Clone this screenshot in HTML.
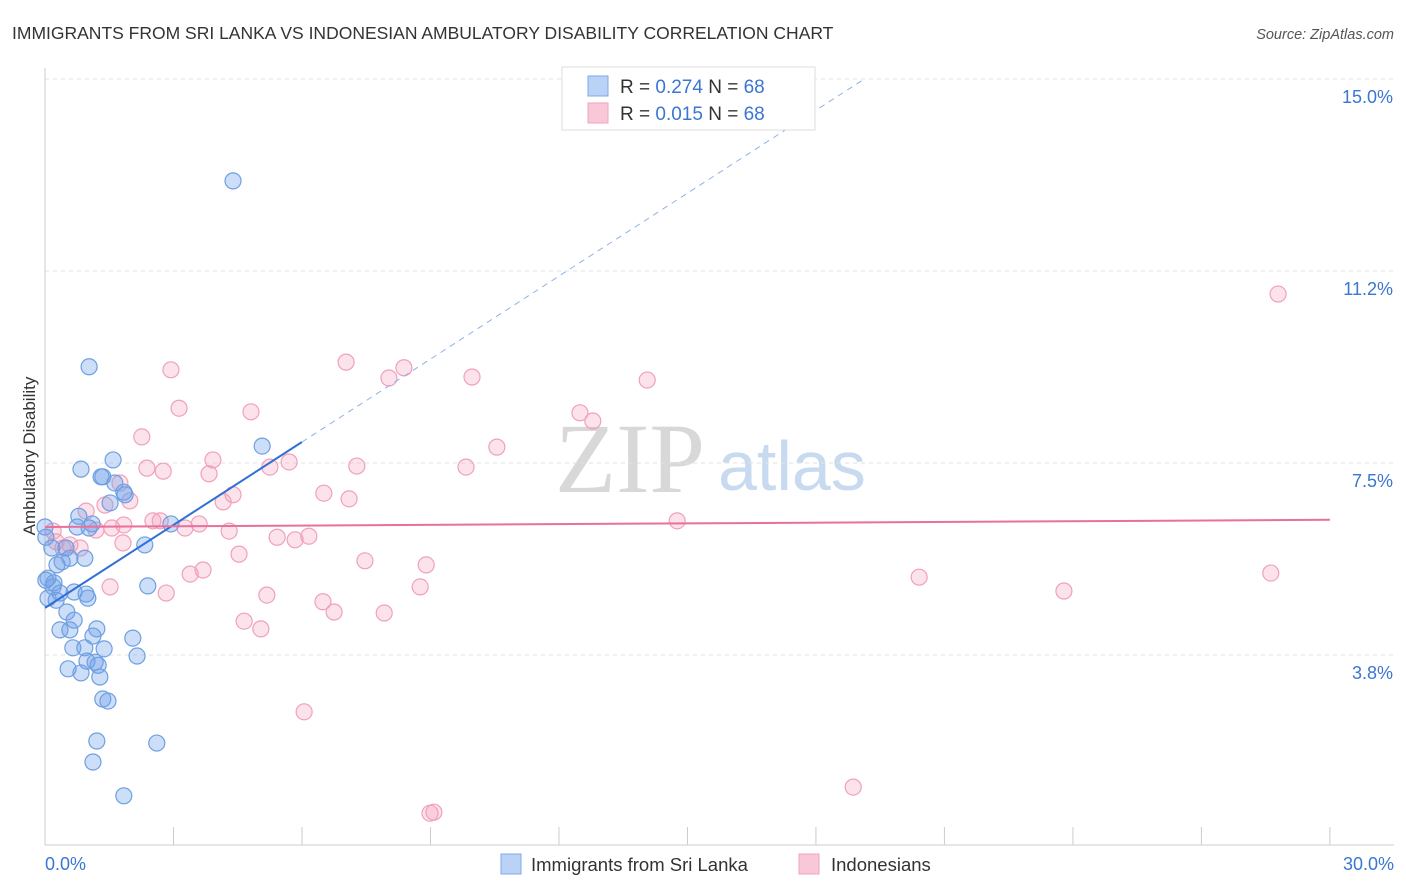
<!DOCTYPE html>
<html><head><meta charset="utf-8"><style>
body{margin:0;background:#fff;font-family:"Liberation Sans",sans-serif;}
svg{display:block}
</style></head><body>
<svg id="chart" width="1406" height="892">
<text x="12" y="39" font-size="17.5" fill="#333">IMMIGRANTS FROM SRI LANKA VS INDONESIAN AMBULATORY DISABILITY CORRELATION CHART</text>
<text x="1394" y="39" font-size="14.5" fill="#555" font-style="italic" text-anchor="end">Source: ZipAtlas.com</text>
<text x="35" y="456" font-size="17" fill="#333" text-anchor="middle" transform="rotate(-90 35 456)">Ambulatory Disability</text>
<g>
<text x="555" y="492" font-size="100" fill="#d8d8d8" font-family="Liberation Serif,serif">ZIP</text>
<text x="718" y="490" font-size="70" fill="#c8daf0">atlas</text>
</g>
<g id="grid"></g><g id="axes"></g><g id="pts"></g><g id="trend"></g>
<g>
<rect x="562" y="67" width="253" height="63" fill="#fff" stroke="#ddd"/>
<rect x="588" y="76" width="20" height="20" fill="#b9d2f5" stroke="#7ea8e6"/>
<rect x="588" y="103" width="20" height="20" fill="#f8c8d8" stroke="#f0a3bd"/>
<text x="620" y="93" font-size="19" fill="#333">R = <tspan fill="#3a76d2">0.274</tspan>   N = <tspan fill="#3a76d2">68</tspan></text>
<text x="620" y="120" font-size="19" fill="#333">R = <tspan fill="#3a76d2">0.015</tspan>   N = <tspan fill="#3a76d2">68</tspan></text>
</g>
<g>
<rect x="501" y="854" width="20" height="20" fill="#b9d2f5" stroke="#7ea8e6"/>
<text x="531" y="871" font-size="18.5" fill="#333">Immigrants from Sri Lanka</text>
<rect x="799" y="854" width="20" height="20" fill="#f8c8d8" stroke="#f0a3bd"/>
<text x="831" y="871" font-size="18.5" fill="#333">Indonesians</text>
</g>
</svg>
<script>
const xTickLabels=["0.0%","30.0%"];
const yTicks=[3.75,7.5,11.25,15];
const yTickLabels=["3.8%","7.5%","11.2%","15.0%"];
const blueX=[4.39,1.03,5.07,0.84,1.59,1.35,1.31,1.63,1.84,1.87,1.52,0.79,0.75,1.10,1.03,2.94,0,0.02,0.16,2.33,0.49,0.58,0.93,0.40,0.28,0.07,0.21,0.02,0.19,2.40,0.35,0.68,0.96,1.00,0.26,0.07,0.51,0.68,0.35,0.58,1.21,1.12,2.05,0.93,0.65,1.38,2.15,0.98,1.17,1.24,0.54,0.84,1.28,1.35,1.47,1.21,2.61,1.12,1.84];
const blueY=[13.01,9.38,7.83,7.38,7.56,7.23,7.23,7.11,6.93,6.88,6.72,6.46,6.25,6.31,6.23,6.31,6.25,6.05,5.84,5.90,5.84,5.64,5.64,5.57,5.51,5.25,5.16,5.21,5.08,5.10,4.96,4.98,4.94,4.86,4.82,4.86,4.59,4.43,4.24,4.24,4.26,4.12,4.08,3.89,3.89,3.87,3.73,3.63,3.61,3.55,3.48,3.40,3.32,2.89,2.85,2.07,2.03,1.66,1.00];
const pinkX=[28.79,7.03,2.94,8.38,8.03,9.97,14.06,3.13,4.81,12.49,12.79,2.26,10.55,3.92,5.70,2.38,2.76,5.25,7.28,9.83,3.83,1.75,1.98,4.39,6.51,7.10,1.40,4.16,0.96,2.52,2.69,14.76,1.84,3.60,1.19,3.27,4.30,1.56,0.19,0.26,0.58,0.82,0.42,1.82,5.42,6.16,5.84,4.53,7.47,8.90,3.39,3.69,20.41,28.62,1.52,2.83,8.76,5.18,6.49,6.75,7.92,23.79,4.65,5.04,6.05,18.87,8.99,9.08];
const pinkY=[10.80,9.47,9.32,9.36,9.16,9.18,9.12,8.57,8.50,8.48,8.32,8.01,7.81,7.56,7.52,7.40,7.34,7.42,7.44,7.42,7.29,7.11,6.76,6.88,6.91,6.80,6.68,6.74,6.56,6.37,6.37,6.37,6.29,6.31,6.19,6.23,6.17,6.23,6.17,5.96,5.90,5.84,5.84,5.94,6.05,6.07,6.00,5.72,5.59,5.51,5.33,5.41,5.27,5.35,5.08,4.96,5.08,4.92,4.79,4.59,4.57,5.00,4.41,4.26,2.64,1.17,0.66,0.68];
const blueTrend=[4.67,0.54]; // intercept, slope
const pinkTrend=[6.25,0.0047];
const blueSolidEnd=6.0, blueDashEnd=19.1;
const X=v=>45+v*42.83, Y=v=>847-v*51.2;
const NS="http://www.w3.org/2000/svg";
function mk(t,a,p){const e=document.createElementNS(NS,t);for(const k in a)e.setAttribute(k,a[k]);p.appendChild(e);return e;}
const grid=document.getElementById('grid'),axes=document.getElementById('axes'),pts=document.getElementById('pts'),tr=document.getElementById('trend');
yTicks.forEach((v,i)=>{
 const l=mk('line',{x1:45,x2:1394,y1:Y(v),y2:Y(v),stroke:'#e2e2e2','stroke-dasharray':'4,4'},grid);
 
 
 const t=mk('text',{x:1393,y:Y(v)+24,'font-size':18,fill:'#3a76d2','text-anchor':'end'},axes);t.textContent=yTickLabels[i];
 
 
});
const ya=mk('line',{x1:45,x2:45,y1:68,y2:845,stroke:'#ccc'},axes);


const xa=mk('line',{x1:45,x2:1394,y1:845,y2:845,stroke:'#ccc'},axes);


for(let v=0;v<=30;v+=3){const tk=mk('line',{x1:X(v),x2:X(v),y1:827,y2:845,stroke:'#ccc'},axes);
 
 }
[[0,'start'],[30,'end']].forEach((d,i)=>{const t=mk('text',{x:i?1394:45,y:870,'font-size':18,fill:'#3a76d2','text-anchor':d[1]},axes);t.textContent=xTickLabels[i];
 
 });
pinkX.forEach((x,i)=>{const c=mk('circle',{cx:X(x),cy:Y(pinkY[i]),r:8,fill:'rgba(244,160,190,0.3)',stroke:'#f0a0bc','stroke-width':1.2},pts);
 
 });
blueX.forEach((x,i)=>{const c=mk('circle',{cx:X(x),cy:Y(blueY[i]),r:8,fill:'rgba(110,160,235,0.35)',stroke:'#6f9fe0','stroke-width':1.2},pts);
 
 });
const bf=x=>blueTrend[0]+blueTrend[1]*x, pf=x=>pinkTrend[0]+pinkTrend[1]*x;
const b1=mk('line',{x1:X(0),y1:Y(bf(0)),x2:X(blueSolidEnd),y2:Y(bf(blueSolidEnd)),stroke:'#2f6fd6','stroke-width':2},tr);


const b2=mk('line',{x1:X(blueSolidEnd),y1:Y(bf(blueSolidEnd)),x2:X(blueDashEnd),y2:Y(bf(blueDashEnd)),stroke:'#8fb2e8','stroke-width':1,'stroke-dasharray':'6,5'},tr);


const p1=mk('line',{x1:X(0),y1:Y(pf(0)),x2:X(30),y2:Y(pf(30)),stroke:'#e8709a','stroke-width':2},tr);


</script>
</body></html>
